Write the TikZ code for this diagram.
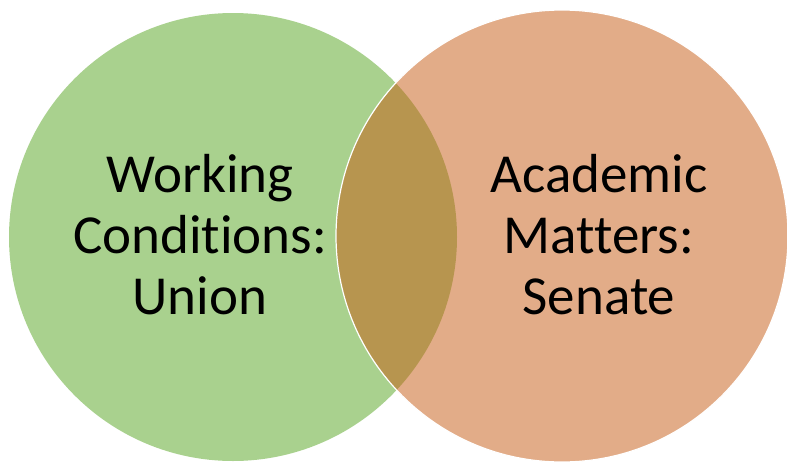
\documentclass[tikz,border=0pt]{standalone}
\usepackage{fontspec}
\setmainfont[Ligatures=NoCommon]{Carlito}
\usepackage{xcolor}
\usepackage{tikz}
\usetikzlibrary{shapes,positioning}
\definecolor{uniongreen}{HTML}{A9D18E}
\definecolor{senateorange}{HTML}{C55A11}
\tikzstyle{greencircle} = [circle, inner sep=0pt, fill=uniongreen]
\tikzstyle{orangecircle} = [circle, inner sep=0pt, fill=senateorange, fill opacity=0.5, draw=white, draw opacity=1, line width=1.2pt]
\tikzstyle{label} = [align=center, text=black, font=\fontsize{55}{61}\selectfont]

\begin{document}
\begin{tikzpicture}[x=1pt, y=-1pt]
        \useasboundingbox (0,0) rectangle (787,461);
        % Circles
        \node (union_set) [greencircle, minimum size=448pt] at (233,237) {};
        \node (senate_set) [orangecircle, minimum size=452pt] at (562,236) {};
        
        % Labels
        \node (union_text) [label] at (200,235) {Working\\Conditions:\\Union};
        \node (senate_text) [label] at (599,235) {Academic\\Matters:\\Senate};
    \end{tikzpicture}
\end{document}
